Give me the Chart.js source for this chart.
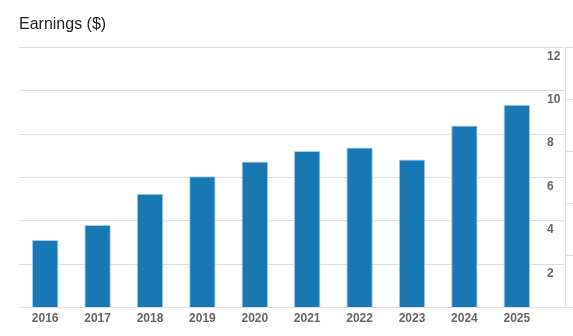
<!DOCTYPE html>
<html lang="en">
<head>
  <meta charset="UTF-8" />
  <title>Earnings</title>
  <script src="https://cdn.jsdelivr.net/npm/chart.js"></script>
  <style>
    html, body {
      margin: 0;
      padding: 0;
      background: #fff;
    }
    #wrap {
      width: 573px;
      height: 336px;
    }
  </style>
</head>
<body>
  <div id="wrap"><canvas id="chart"></canvas></div>

  <script>
    const years = ['2016', '2017', '2018', '2019', '2020', '2021', '2022', '2023', '2024', '2025'];
    const earnings = [3.12, 3.81, 5.25, 6.05, 6.73, 7.22, 7.38, 6.83, 8.39, 9.35];
    const yTicks = [0, 2, 4, 6, 8, 10, 12];

    const fontFamily = "'Liberation Sans', Arial, Helvetica, sans-serif";
    const gridColor = '#dedede';
    const labelColor = '#666';

    new Chart(document.getElementById('chart'), {
      type: 'bar',
      data: {
        labels: years,
        datasets: [{
          label: 'Earnings',
          data: earnings,
          backgroundColor: '#1878b4',
          borderColor: '#a3cdea',
          borderWidth: 1,
          categoryPercentage: 1,
          barPercentage: 0.505
        }]
      },
      options: {
        responsive: true,
        maintainAspectRatio: false,
        animation: false,
        layout: {
          padding: { left: 19, right: 0, top: 0, bottom: 6 }
        },
        plugins: {
          legend: { display: false },
          tooltip: { enabled: false },
          title: {
            display: true,
            text: 'Earnings ($)',
            align: 'start',
            color: '#1e1e1e',
            font: { family: fontFamily, size: 16, weight: 'normal' },
            padding: { top: 15, bottom: 13 }
          }
        },
        scales: {
          x: {
            grid: { display: false, drawTicks: false },
            border: { display: false },
            ticks: {
              color: labelColor,
              padding: 4,
              font: { family: fontFamily, size: 12, weight: 'bold' }
            }
          },
          y: {
            position: 'right',
            min: yTicks[0],
            max: yTicks[yTicks.length - 1],
            afterBuildTicks: scale => {
              scale.ticks = yTicks.map(v => ({ value: v }));
            },
            afterFit: scale => {
              scale.width = 22;
            },
            grid: { color: gridColor, lineWidth: 1, tickLength: 21 },
            border: { display: false },
            ticks: {
              color: labelColor,
              padding: -17,
              labelOffset: 9,
              font: { family: fontFamily, size: 12, weight: 'bold' },
              callback: v => (v === 0 ? '' : v)
            }
          },
          // thin outer axis with short tick marks on the far right
          y2: {
            position: 'right',
            min: 0,
            max: 5,
            grid: { drawOnChartArea: false, color: gridColor, tickLength: 8 },
            border: { display: true, color: gridColor },
            ticks: { display: false, stepSize: 1 }
          }
        }
      }
    });
  </script>
</body>
</html>
